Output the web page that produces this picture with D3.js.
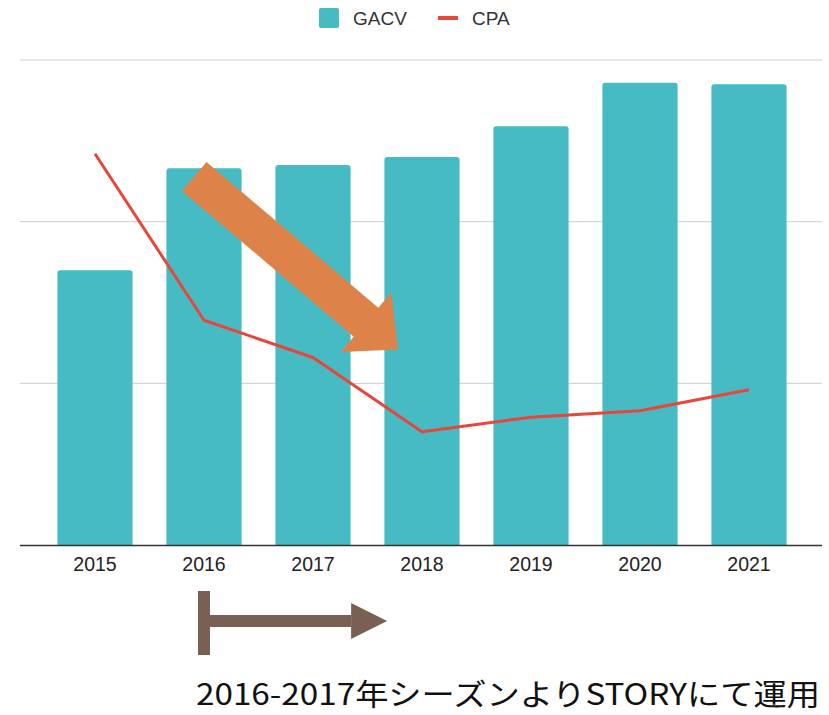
<!DOCTYPE html>
<html>
<head>
<meta charset="utf-8">
<script src="https://cdn.jsdelivr.net/npm/d3@7"></script>
<style>
  body { margin: 0; background: #fff; }
  svg { display: block; }
</style>
</head>
<body>
<svg id="chart" width="829" height="715"></svg>
<script>
// --- data ---
const years = ["2015", "2016", "2017", "2018", "2019", "2020", "2021"];
const gacv = [1.70, 2.33, 2.35, 2.40, 2.59, 2.86, 2.85];
const cpa = [2.42, 1.39, 1.16, 0.70, 0.79, 0.83, 0.96];
const gridTicks = [0, 1, 2, 3];
const seriesNames = ["GACV", "CPA"];
const note = "2016-2017年シーズンよりSTORYにて運用";

// --- layout ---
const width = 829, height = 715;
const plotLeft = 20, plotRight = 822;
const plotTop = 60, plotBottom = 545;
const teal = "#46bbc4", red = "#e8463a";

const svg = d3.select("#chart");

const x = d3.scaleBand()
    .domain(years)
    .range([40.5, 803.5])
    .paddingInner(0.31)
    .paddingOuter(0.155);

const y = d3.scaleLinear()
    .domain([0, 3])
    .range([plotBottom, plotTop]);

const cx = d => x(d) + x.bandwidth() / 2;

// gridlines
svg.append("g")
    .selectAll("line")
    .data(gridTicks.slice(1))
    .join("line")
    .attr("x1", plotLeft).attr("x2", plotRight)
    .attr("y1", d => y(d)).attr("y2", d => y(d))
    .attr("stroke", "#cccccc").attr("stroke-width", 1);

// bars
svg.append("g")
    .selectAll("path")
    .data(years.map((yr, i) => ({ yr, v: gacv[i] })))
    .join("path")
    .attr("fill", teal)
    .attr("d", d => {
        const x0 = x(d.yr), w = x.bandwidth(), y0 = y(d.v), r = 3;
        return `M${x0},${plotBottom}V${y0 + r}Q${x0},${y0} ${x0 + r},${y0}` +
               `H${x0 + w - r}Q${x0 + w},${y0} ${x0 + w},${y0 + r}V${plotBottom}Z`;
    });

// baseline
svg.append("line")
    .attr("x1", plotLeft).attr("x2", plotRight)
    .attr("y1", plotBottom + 0.5).attr("y2", plotBottom + 0.5)
    .attr("stroke", "#333").attr("stroke-width", 1.5);

// x axis labels
const xAxis = svg.append("g")
    .attr("transform", `translate(0,${plotBottom})`)
    .call(d3.axisBottom(x).tickSize(0).tickPadding(12));
xAxis.select(".domain").remove();
xAxis.selectAll("text")
    .attr("font-family", "Liberation Sans, Arial, sans-serif")
    .attr("font-size", 19.5)
    .attr("fill", "#222");

// CPA line
const line = d3.line()
    .x((d, i) => cx(years[i]))
    .y(d => y(d));
svg.append("path")
    .datum(cpa)
    .attr("fill", "none")
    .attr("stroke", red)
    .attr("stroke-width", 3)
    .attr("stroke-linejoin", "round")
    .attr("d", line);

// legend
const legend = svg.append("g").attr("font-family", "Liberation Sans, Arial, sans-serif")
    .attr("font-size", 19).attr("fill", "#333");
legend.append("rect").attr("x", 319).attr("y", 8).attr("width", 20).attr("height", 20)
    .attr("rx", 2).attr("fill", teal);
legend.append("text").attr("x", 353).attr("y", 25).text(seriesNames[0]);
legend.append("rect").attr("x", 438).attr("y", 16).attr("width", 20).attr("height", 4)
    .attr("fill", red);
legend.append("text").attr("x", 472).attr("y", 25).text(seriesNames[1]);

// --- annotations ---
// orange block arrow: from above 2016 bar down toward 2018
const step = x.step();
const tail = [cx("2016") - 0.09 * step, y(2.28)];
const tip = [cx("2018") - 0.22 * step, y(1.21)];
const dx = tip[0] - tail[0], dy = tip[1] - tail[1];
const len = Math.hypot(dx, dy);
const ux = dx / len, uy = dy / len, nx = -uy, ny = ux;
const shaftHalf = 19, headHalf = 39, headLen = 42;
const hb = [tip[0] - ux * headLen, tip[1] - uy * headLen];
const P = (p, k, s) => [p[0] + nx * k * s, p[1] + ny * k * s];
const orangePts = [
    P(tail, shaftHalf, 1), P(hb, shaftHalf, 1), P(hb, headHalf, 1), tip,
    P(hb, headHalf, -1), P(hb, shaftHalf, -1), P(tail, shaftHalf, -1)
];
svg.append("polygon")
    .attr("points", orangePts.map(p => p.join(",")).join(" "))
    .attr("fill", "#dd8248");

// brown bracket arrow under the axis, starting at 2016
const brown = "#7a5f55";
const bx = cx("2016");
svg.append("rect").attr("x", bx - 6).attr("y", 591).attr("width", 12).attr("height", 64)
    .attr("fill", brown);
const arrowEnd = cx("2017") + 0.68 * step;
svg.append("rect").attr("x", bx + 6).attr("y", 615).attr("width", arrowEnd - 36 - bx - 6)
    .attr("height", 12).attr("fill", brown);
svg.append("polygon")
    .attr("points", [[arrowEnd - 36, 603], [arrowEnd, 621], [arrowEnd - 36, 639]].map(p => p.join(",")).join(" "))
    .attr("fill", brown);

// note text
svg.append("text")
    .attr("x", 196).attr("y", 705)
    .attr("font-family", "Noto Sans CJK JP, sans-serif")
    .attr("font-size", 30)
    .attr("textLength", 624)
    .attr("lengthAdjust", "spacingAndGlyphs")
    .attr("fill", "#111")
    .text(note);
</script>
</body>
</html>
